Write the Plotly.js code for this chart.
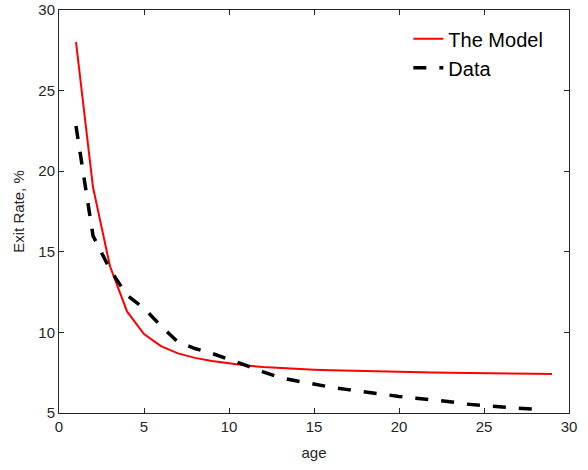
<!DOCTYPE html>
<html>
<head>
<meta charset="utf-8">
<script src="https://cdn.plot.ly/plotly-3.0.1.min.js"></script>
<style>html,body{margin:0;padding:0;background:#fff;}#chart{width:588px;height:470px;}</style>
</head>
<body>
<div id="chart"></div>
<script>
const modelAges = [1,2,3,4,5,6,7,8,9,10,11,12,13,14,15,16,17,18,19,20,21,22,23,24,25,26,27,28,29];
const modelRate = [28.0,19.0,14.1,11.3,9.9,9.15,8.7,8.42,8.22,8.07,7.95,7.86,7.79,7.73,7.69,7.65,7.62,7.6,7.57,7.55,7.53,7.51,7.49,7.47,7.46,7.45,7.44,7.43,7.42];
const dataAges = [1,2,3,4,5,6,7,8,9,10,11,12,13,14,15,16,17,18,19,20,21,22,23,24,25,26,27,28];
const dataRate = [22.8,16.0,13.9,12.3,11.5,10.4,9.4,9.0,8.7,8.35,7.95,7.55,7.2,6.98,6.78,6.6,6.45,6.3,6.15,6.03,5.92,5.82,5.7,5.55,5.45,5.37,5.3,5.24];
const xTicks = [0,5,10,15,20,25,30];
const yTicks = [5,10,15,20,25,30];
const seriesNames = ['The Model','Data'];

const axisColor = '#262626';
const traces = [
  {x: modelAges, y: modelRate, name: seriesNames[0], mode: 'lines',
   line: {color: '#ff0000', width: 2}},
  {x: dataAges, y: dataRate, name: seriesNames[1], mode: 'lines',
   line: {color: '#000000', width: 3.5, dash: '13px,13px'}}
];
const axisCommon = {
  showgrid: false, zeroline: false, showline: true, linecolor: axisColor, linewidth: 1,
  mirror: 'ticks', ticks: 'inside', ticklen: 5, tickcolor: axisColor, tickwidth: 1,
  tickfont: {family: 'Liberation Sans, Arial, sans-serif', size: 15, color: axisColor}
};
const layout = {
  width: 588, height: 470,
  margin: {l: 59, r: 19, t: 10, b: 57},
  paper_bgcolor: '#ffffff', plot_bgcolor: '#ffffff',
  xaxis: Object.assign({}, axisCommon, {
    range: [0, 30], tickvals: xTicks, ticktext: xTicks.map(String),
    title: {text: 'age', font: {family: 'Liberation Sans, Arial, sans-serif', size: 15, color: axisColor}, standoff: 13}
  }),
  yaxis: Object.assign({}, axisCommon, {
    range: [5, 30], tickvals: yTicks, ticktext: yTicks.map(String),
    title: {text: 'Exit Rate, %', font: {family: 'Liberation Sans, Arial, sans-serif', size: 15, color: axisColor}, standoff: 10}
  }),
  legend: {x: 0.685, y: 0.977, xanchor: 'left', yanchor: 'top', bgcolor: 'rgba(255,255,255,0)',
    borderwidth: 0, font: {family: 'Liberation Sans, Arial, sans-serif', size: 20, color: '#000'},
    tracegroupgap: 0},
  showlegend: true
};
Plotly.newPlot('chart', traces, layout, {displayModeBar: false, staticPlot: true});
</script>
</body>
</html>
